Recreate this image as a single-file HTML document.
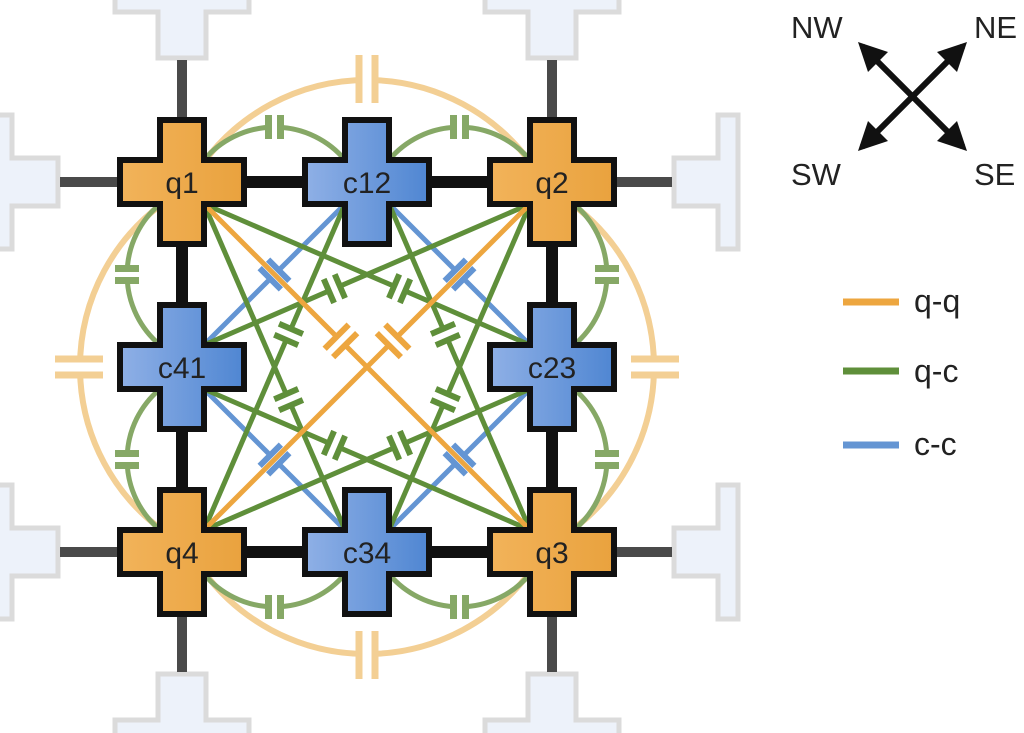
<!DOCTYPE html>
<html><head><meta charset="utf-8"><style>
html,body{margin:0;padding:0;background:#fff;width:1024px;height:733px;overflow:hidden}
svg{display:block}
text{font-family:"Liberation Sans",Arial,sans-serif}
</style></head><body>
<svg id="s" width="1024" height="733" viewBox="0 0 1024 733" xmlns="http://www.w3.org/2000/svg">
<defs>
<linearGradient id="og" x1="0" x2="1"><stop offset="0" stop-color="#f2b35a"/><stop offset="1" stop-color="#e9a23e"/></linearGradient>
<linearGradient id="bg" x1="0" x2="1"><stop offset="0" stop-color="#8fb0e6"/><stop offset="1" stop-color="#4f86d2"/></linearGradient>
</defs>
<g id="pads" opacity="0.75"></g>
<g id="wires"></g>
<g id="lines"></g>
<g id="nodes"></g>
<g font-size="30" fill="#222" text-anchor="middle">
<text x="182" y="193">q1</text>
<text x="367" y="193">c12</text>
<text x="552" y="193">q2</text>
<text x="182" y="378">c41</text>
<text x="552" y="378">c23</text>
<text x="182" y="563">q4</text>
<text x="367" y="563">c34</text>
<text x="552" y="563">q3</text>
</g>
<g fill="#111">
<line x1="862" y1="46" x2="963" y2="147" stroke="#111" stroke-width="6"/>
<line x1="963" y1="46" x2="862" y2="147" stroke="#111" stroke-width="6"/>
<polygon points="858,42 888,52 868,72"/>
<polygon points="967,42 957,72 937,52"/>
<polygon points="858,151 868,121 888,141"/>
<polygon points="967,151 937,141 957,121"/>
</g>
<g font-size="31" fill="#222">
<text x="791" y="38">NW</text>
<text x="974" y="38">NE</text>
<text x="791" y="185">SW</text>
<text x="974" y="185">SE</text>
</g>
<g stroke-width="7">
<line x1="843" y1="302" x2="899" y2="302" stroke="#eda63f"/>
<line x1="843" y1="371" x2="899" y2="371" stroke="#5f8f3a"/>
<line x1="843" y1="445" x2="899" y2="445" stroke="#6495d3"/>
</g>
<g font-size="32" fill="#222">
<text x="914" y="312">q-q</text>
<text x="914" y="382">q-c</text>
<text x="914" y="455">c-c</text>
</g>
</svg>
<script>
(function(){
var NS="http://www.w3.org/2000/svg";
function el(p,t,a){var e=document.createElementNS(NS,t);for(var k in a)e.setAttribute(k,a[k]);document.getElementById(p).appendChild(e);return e;}
var O="#eda63f",G="#5f8f3a",B="#6495d3",OF="#f3cf94",GF="#86a866";
var ps={fill:"#e8eef9",stroke:"#cfcfcf","stroke-width":5};
function P(d){el("pads","path",Object.assign({d:d},ps));}
function padTop(cx){P("M"+(cx-67)+",-6 H"+(cx+67)+" V12 H"+(cx+24)+" V58 H"+(cx-24)+" V12 H"+(cx-67)+" Z");}
function padBot(cx){P("M"+(cx-67)+",740 H"+(cx+67)+" V720 H"+(cx+24)+" V674 H"+(cx-24)+" V720 H"+(cx-67)+" Z");}
function padLeft(cy){P("M-6,"+(cy-67)+" V"+(cy+67)+" H12 V"+(cy+24)+" H58 V"+(cy-24)+" H12 V"+(cy-67)+" Z");}
function padRight(cy){P("M738,"+(cy-67)+" V"+(cy+67)+" H718 V"+(cy+24)+" H674 V"+(cy-24)+" H718 V"+(cy-67)+" Z");}
padTop(182);padTop(552);padBot(182);padBot(552);padLeft(182);padLeft(552);padRight(182);padRight(552);
var gw={stroke:"#4a4a4a","stroke-width":10};
[[182,60,182,117],[552,60,552,117],[182,617,182,672],[552,617,552,672],[60,182,117,182],[60,552,117,552],[617,182,672,182],[617,552,672,552]].forEach(function(l){el("wires","line",Object.assign({x1:l[0],y1:l[1],x2:l[2],y2:l[3]},gw));});
var bw={stroke:"#111","stroke-width":12};
[[247,182,302,182],[432,182,487,182],[247,552,302,552],[432,552,487,552],[182,247,182,302],[182,432,182,487],[552,247,552,302],[552,432,552,487]].forEach(function(l){el("wires","line",Object.assign({x1:l[0],y1:l[1],x2:l[2],y2:l[3]},bw));});
function capLine(p,q,t,col,pl){
 var dx=q[0]-p[0],dy=q[1]-p[1],L=Math.hypot(dx,dy),ux=dx/L,uy=dy/L,nx=-uy,ny=ux;
 var cx=p[0]+dx*t,cy=p[1]+dy*t,g=6;
 var a=[cx-ux*g,cy-uy*g],b=[cx+ux*g,cy+uy*g];
 el("lines","line",{x1:p[0],y1:p[1],x2:a[0],y2:a[1],stroke:col,"stroke-width":5});
 el("lines","line",{x1:b[0],y1:b[1],x2:q[0],y2:q[1],stroke:col,"stroke-width":5});
 [a,b].forEach(function(c){el("lines","line",{x1:c[0]-nx*pl/2,y1:c[1]-ny*pl/2,x2:c[0]+nx*pl/2,y2:c[1]+ny*pl/2,stroke:col,"stroke-width":6});});
}
function capArc(p,q,r,sweep,col,mid,horiz,pl,w){
 el("lines","path",{d:"M"+p[0]+","+p[1]+" A"+r+","+r+" 0 0 "+sweep+" "+q[0]+","+q[1],fill:"none",stroke:col,"stroke-width":w});
 var g=pl>30?10:8;
 if(horiz){
  el("lines","rect",{x:mid[0]-g,y:mid[1]-8,width:2*g,height:16,fill:"#fff"});
  [mid[0]-g+2,mid[0]+g-2].forEach(function(x){el("lines","line",{x1:x,y1:mid[1]-pl/2,x2:x,y2:mid[1]+pl/2,stroke:col,"stroke-width":7});});
 } else {
  el("lines","rect",{x:mid[0]-8,y:mid[1]-g,width:16,height:2*g,fill:"#fff"});
  [mid[1]-g+2,mid[1]+g-2].forEach(function(y){el("lines","line",{x1:mid[0]-pl/2,y1:y,x2:mid[0]+pl/2,y2:y,stroke:col,"stroke-width":7});});
 }
}
capArc([204,162],[530,162],203,1,OF,[367,79],true,48,6);
capArc([204,572],[530,572],203,0,OF,[367,655],true,48,6);
capArc([162,204],[162,530],203,0,OF,[79,367],false,48,6);
capArc([572,204],[572,530],203,1,OF,[655,367],false,48,6);
var gr=92;
capArc([204,160],[345,160],gr,1,GF,[274.5,127],true,24,5);
capArc([389,160],[530,160],gr,1,GF,[459.5,127],true,24,5);
capArc([204,574],[345,574],gr,0,GF,[274.5,607],true,24,5);
capArc([389,574],[530,574],gr,0,GF,[459.5,607],true,24,5);
capArc([160,204],[160,345],gr,0,GF,[127,274.5],false,24,5);
capArc([160,389],[160,530],gr,0,GF,[127,459.5],false,24,5);
capArc([574,204],[574,345],gr,1,GF,[607,274.5],false,24,5);
capArc([574,389],[574,530],gr,1,GF,[607,459.5],false,24,5);
capLine([345,204],[204,345],0.5,B,30);
capLine([389,204],[530,345],0.5,B,30);
capLine([530,389],[389,530],0.5,B,30);
capLine([345,530],[204,389],0.5,B,30);
var q1=[204,204],q2=[530,204],q3=[530,530],q4=[204,530];
capLine(q1,[530,345],0.6,G,26);capLine(q1,[345,530],0.6,G,26);
capLine(q2,[204,345],0.6,G,26);capLine(q2,[389,530],0.6,G,26);
capLine(q3,[204,389],0.6,G,26);capLine(q3,[389,204],0.6,G,26);
capLine(q4,[530,389],0.6,G,26);capLine(q4,[345,204],0.6,G,26);
capLine(q1,q3,0.42,O,34);capLine(q2,q4,0.42,O,34);
function cross(cx,cy,fill){var a=62,w=22;
 el("nodes","path",{d:"M"+(cx-w)+","+(cy-a)+" H"+(cx+w)+" V"+(cy-w)+" H"+(cx+a)+" V"+(cy+w)+" H"+(cx+w)+" V"+(cy+a)+" H"+(cx-w)+" V"+(cy+w)+" H"+(cx-a)+" V"+(cy-w)+" H"+(cx-w)+" Z",fill:fill,stroke:"#111","stroke-width":6});}
cross(182,182,"url(#og)");cross(552,182,"url(#og)");cross(182,552,"url(#og)");cross(552,552,"url(#og)");
cross(367,182,"url(#bg)");cross(182,367,"url(#bg)");cross(552,367,"url(#bg)");cross(367,552,"url(#bg)");
})();
</script>
</body></html>
